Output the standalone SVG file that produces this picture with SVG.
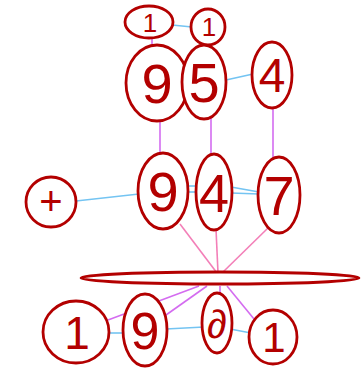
<svg xmlns="http://www.w3.org/2000/svg" width="361" height="368" viewBox="0 0 361 368">
<style>
.n{fill:#fff;stroke:#b30000;stroke-width:2.8}
.t{fill:#b30000;font-family:"Liberation Sans",sans-serif;text-anchor:middle}
.b{stroke:#74c4f2;stroke-width:1.6;fill:none}
.m{stroke:#d46cf0;stroke-width:1.6;fill:none}
.p{stroke:#f37fb8;stroke-width:1.6;fill:none}
</style>
<rect width="361" height="368" fill="#fff"/>
<g id="connectors">
<line class="b" x1="172" y1="25" x2="192" y2="27"/>
<line class="m" x1="152" y1="37" x2="152" y2="47"/>
<line class="b" x1="226" y1="80" x2="253" y2="74"/>
<line class="m" x1="160" y1="120" x2="160" y2="155"/>
<line class="m" x1="211" y1="117" x2="211" y2="156"/>
<line class="m" x1="273" y1="106" x2="273" y2="158"/>
<line class="b" x1="76" y1="201" x2="139" y2="194"/>
<line class="b" x1="186" y1="186" x2="198" y2="186"/>
<line class="b" x1="186" y1="192" x2="198" y2="192"/>
<line class="b" x1="231" y1="187" x2="259" y2="192"/>
<line class="b" x1="231" y1="193" x2="259" y2="194"/>
<line class="p" x1="180" y1="224" x2="217" y2="273"/>
<line class="p" x1="216" y1="229" x2="218" y2="273"/>
<line class="p" x1="268" y1="228" x2="222" y2="273"/>
<line class="m" x1="199" y1="286" x2="108" y2="320"/>
<line class="m" x1="207" y1="286" x2="166" y2="315"/>
<line class="m" x1="220" y1="286" x2="220" y2="295"/>
<line class="m" x1="227" y1="286" x2="254" y2="319"/>
<line class="b" x1="108" y1="333" x2="124" y2="333"/>
<line class="b" x1="166" y1="329" x2="204" y2="327"/>
<line class="b" x1="230" y1="329" x2="251" y2="333"/>
</g>
<g id="n1"><ellipse class="n" cx="149" cy="22" rx="24" ry="16"/><text class="t" x="150" y="32" font-size="26">1</text></g>
<g id="n2"><ellipse class="n" cx="208" cy="27" rx="17" ry="18"/><text class="t" x="209" y="36" font-size="26">1</text></g>
<g id="n3"><ellipse class="n" cx="157" cy="83" rx="31" ry="38"/><text class="t" x="157" y="103" font-size="56">9</text></g>
<g id="n4"><ellipse class="n" cx="204" cy="82" rx="22" ry="37"/><text class="t" x="204" y="102" font-size="56">5</text></g>
<g id="n5"><ellipse class="n" cx="272" cy="75" rx="20" ry="33"/><text class="t" x="272" y="92" font-size="48">4</text></g>
<g id="n6"><ellipse class="n" cx="51" cy="202" rx="25" ry="25"/><text class="t" x="51" y="215" font-size="40">+</text></g>
<g id="n7"><ellipse class="n" cx="163" cy="191" rx="25" ry="38"/><text class="t" x="163" y="211" font-size="56">9</text></g>
<g id="n8"><ellipse class="n" cx="214" cy="192" rx="18" ry="38"/><text class="t" x="214" y="212" font-size="54">4</text></g>
<g id="n9"><ellipse class="n" cx="279" cy="195" rx="21" ry="38"/><text class="t" x="279" y="215" font-size="56">7</text></g>
<g id="n10"><ellipse class="n" cx="220" cy="278" rx="139" ry="6"/></g>
<g id="n11"><ellipse class="n" cx="76" cy="332" rx="33" ry="31"/><text class="t" x="77" y="349" font-size="46">1</text></g>
<g id="n12"><ellipse class="n" cx="145" cy="330" rx="22" ry="36"/><text class="t" x="145" y="349" font-size="52">9</text></g>
<g id="n13"><ellipse class="n" cx="217" cy="323" rx="15" ry="30"/><text class="t" x="217" y="338" font-size="40">∂</text></g>
<g id="n14"><ellipse class="n" cx="273" cy="337" rx="24" ry="27"/><text class="t" x="274" y="352" font-size="42">1</text></g>
</svg>
